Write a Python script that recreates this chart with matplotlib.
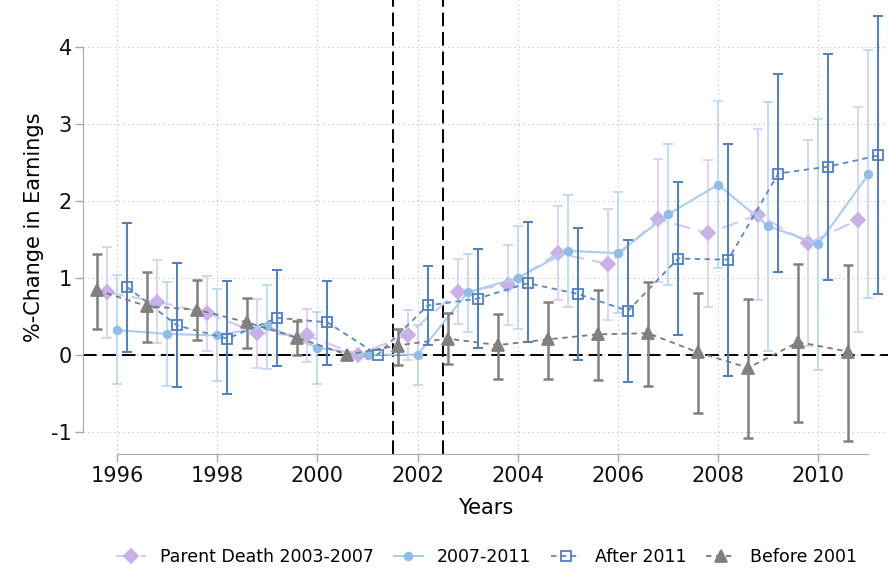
import numpy as np
import matplotlib
matplotlib.use('Agg')
import matplotlib.pyplot as plt

plt.rcParams['axes.unicode_minus'] = False

nan = np.nan
years = np.arange(1996, 2012)

# Parent Death 2003-2007
pd_est = [0.81, 0.69, 0.54, 0.28, 0.25, 0.0, 0.26, 0.82, 0.905, 1.32, 1.18, 1.76, 1.58, 1.82, 1.45, 1.755]
pd_lo = [0.22, 0.15, 0.05, -0.17, -0.095, nan, -0.07, 0.40, 0.38, 0.715, 0.45, 0.94, 0.62, 0.71, 0.12, 0.30]
pd_hi = [1.40, 1.235, 1.02, 0.72, 0.60, nan, 0.585, 1.245, 1.43, 1.93, 1.895, 2.55, 2.53, 2.935, 2.79, 3.22]

# 2007-2011
mid_est = [0.32, 0.27, 0.25, 0.37, 0.09, 0.0, 0.0, 0.81, 1.00, 1.35, 1.32, 1.825, 2.21, 1.67, 1.44, 2.345]
mid_lo = [-0.385, -0.40, -0.34, -0.18, -0.38, nan, -0.39, 0.30, 0.33, 0.62, 0.54, 0.91, 1.13, 0.05, -0.195, 0.74]
mid_hi = [1.03, 0.94, 0.85, 0.91, 0.555, nan, 0.38, 1.31, 1.67, 2.08, 2.11, 2.74, 3.295, 3.28, 3.065, 3.955]

# After 2011
aft_est = [0.88, 0.38, 0.21, 0.48, 0.42, 0.0, 0.64, 0.73, 0.93, 0.79, 0.57, 1.25, 1.235, 2.355, 2.445, 2.59]
aft_lo = [0.03, -0.42, -0.51, -0.15, -0.13, nan, 0.13, 0.09, 0.16, -0.07, -0.355, 0.26, -0.27, 1.07, 0.975, 0.79]
aft_hi = [1.71, 1.19, 0.96, 1.105, 0.96, nan, 1.15, 1.375, 1.72, 1.65, 1.49, 2.25, 2.74, 3.65, 3.905, 4.40]

# Before 2001
bef_est = [0.84, 0.63, 0.585, 0.42, 0.22, 0.0, 0.12, 0.21, 0.125, 0.20, 0.265, 0.28, 0.03, -0.17, 0.165, 0.04]
bef_lo = [0.33, 0.17, 0.19, 0.09, 0.0, nan, -0.13, -0.125, -0.31, -0.32, -0.33, -0.41, -0.76, -1.08, -0.875, -1.12]
bef_hi = [1.31, 1.08, 0.97, 0.74, 0.44, nan, 0.33, 0.54, 0.53, 0.68, 0.84, 0.94, 0.80, 0.72, 1.175, 1.17]

xticks = [1996, 1998, 2000, 2002, 2004, 2006, 2008, 2010]
yticks = [-1, 0, 1, 2, 3, 4]
event_lines = [2001.5, 2002.5]

fig = plt.figure(figsize=(8.88, 5.71), dpi=100)
ax = fig.add_axes([83/888, 1 - 454/571, 1 - 83/888, 454/571])

def series(off, est, lo, hi, label, lcol, ecol, mcol, marker, ms, ls, lw, elw, mfc=None, z=3):
    x = years + off
    est = np.array(est); lo = np.array(lo); hi = np.array(hi)
    ok = ~np.isnan(lo)
    ax.errorbar(x[ok], est[ok], yerr=[est[ok] - lo[ok], hi[ok] - est[ok]], fmt='none',
                ecolor=ecol, elinewidth=elw, capsize=3.5, capthick=elw, zorder=z)
    h, = ax.plot(x, est, color=lcol, ls=ls, lw=lw, marker=marker, ms=ms,
                 mfc=mfc if mfc else mcol, mec=mcol, mew=1.3, label=label, zorder=z + 0.2)
    return h

h1 = series(-0.2, pd_est, pd_lo, pd_hi, 'Parent Death 2003-2007', '#d7c6ef', '#dccbf1', '#c9b1e8',
            'D', 7, (0, (8, 4)), 1.5, 1.2, z=3)
h2 = series(0.0, mid_est, mid_lo, mid_hi, '2007-2011', '#aacdf0', '#b9d6f3', '#8fbde8',
            'o', 5.5, '-', 1.5, 1.2, z=4)
h3 = series(0.2, aft_est, aft_lo, aft_hi, 'After 2011', '#5b87c6', '#4f7fc2', '#4f7fc2',
            's', 7.5, (0, (3, 2.5)), 1.3, 1.4, mfc='none', z=5)
h4 = series(-0.4, bef_est, bef_lo, bef_hi, 'Before 2001', '#7a7a7a', '#808080', '#808080',
            '^', 9, (0, (3, 2.5)), 1.3, 1.8, z=6)

# reference lines
ax.axhline(0, color='black', lw=1.4, ls=(0, (7, 3)), zorder=2)
for v in event_lines:
    ax.axvline(v, color='black', lw=1.4, ls=(0, (7, 3)), zorder=2)

ax.set_xlim(1995.32, 2011.39)
ax.set_ylim(-1.29, 4.61)
ax.set_xticks(xticks)
ax.set_yticks(yticks)
ax.grid(True, color='#bbbbbb', lw=0.8, ls=(0, (1, 3)), zorder=0)
ax.set_axisbelow(True)
for s in ['top', 'right']:
    ax.spines[s].set_visible(False)
ax.spines['left'].set_bounds(-1, 4)
ax.spines['bottom'].set_bounds(1996, 2011)
for s in ['left', 'bottom']:
    ax.spines[s].set_color('#aaaaaa')
ax.tick_params(axis='both', colors='#aaaaaa', labelcolor='#111111', labelsize=15, length=6, width=1)
ax.tick_params(axis='y', pad=2)
ax.tick_params(axis='x', pad=3)
ax.set_ylabel('%-Change in Earnings', fontsize=15, labelpad=5)
ax.set_xlabel('Years', fontsize=15, labelpad=8)

fig.legend(handles=[h1, h2, h3, h4], loc='center', bbox_to_anchor=(0.548, 1 - 557/571), ncol=4,
           frameon=False, fontsize=12.5, handlelength=1.7, handletextpad=0.8, columnspacing=1.15)

fig.savefig('out.png', dpi=100)
